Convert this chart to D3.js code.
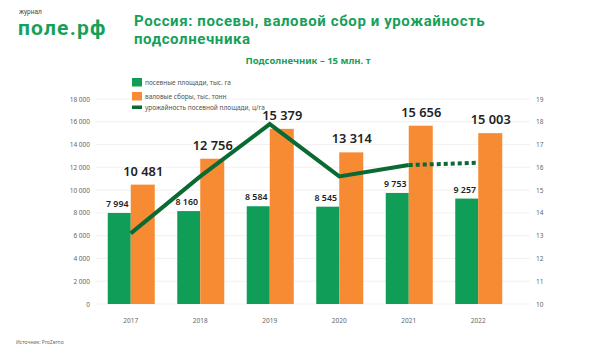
<!DOCTYPE html>
<html>
<head>
<meta charset="utf-8">
<script src="https://cdn.jsdelivr.net/npm/d3@7"></script>
<style>
    body { margin: 0; background: #fff; }
    svg { display: block; font-family: "Noto Sans", sans-serif; }
</style>
</head>
<body>
<div id="chart"></div>
<script>
const years = ['2017', '2018', '2019', '2020', '2021', '2022'];
const areaValues = [7994, 8160, 8584, 8545, 9753, 9257];      // посевные площади, тыс. га
const harvestValues = [10481, 12756, 15379, 13314, 15656, 15003]; // валовые сборы, тыс. тонн
const yieldValues = [13.1, 15.6, 17.9, 15.6, 16.1, 16.2];     // урожайность, ц/га
const leftTicks = [0, 2000, 4000, 6000, 8000, 10000, 12000, 14000, 16000, 18000];
const rightTicks = [10, 11, 12, 13, 14, 15, 16, 17, 18, 19];
const legendLabels = [
    'посевные площади, тыс. га',
    'валовые сборы, тыс. тонн',
    'урожайность посевной площади, ц/га'
];

const colors = {
    area: '#0f9d58',
    harvest: '#f68b33',
    yield: '#0b6a33',
    title: '#16a05a'
};

const width = 600;
const height = 352;

const svg = d3.select('#chart')
    .append('svg')
    .attr('width', width)
    .attr('height', height);

const fmt = v => d3.format(',')(v).replace(/,/g, ' ');

// scales
const x = d3.scaleBand().domain(years).range([96, 513]).padding(0);
const yLeft = d3.scaleLinear().domain([0, 18000]).range([304, 99]);
const yRight = d3.scaleLinear().domain([10, 19]).range([304, 99]);
const barW = 23;
const cx = d => x(d) + x.bandwidth() / 2;

// header
svg.append('text')
    .attr('x', 19).attr('y', 14)
    .attr('font-family', 'Roboto, sans-serif')
    .attr('font-size', 6.5).attr('fill', '#444')
    .text('журнал');
svg.append('text')
    .attr('x', 18).attr('y', 35)
    .attr('font-family', 'Roboto, sans-serif')
    .attr('font-size', 21).attr('font-weight', 700)
    .attr('letter-spacing', 1.2)
    .attr('fill', colors.title)
    .text('поле.рф');

svg.append('text')
    .attr('x', 134).attr('y', 26)
    .attr('font-family', 'Roboto, sans-serif')
    .attr('font-size', 15).attr('font-weight', 700)
    .attr('letter-spacing', 0.6)
    .attr('fill', colors.title)
    .text('Россия: посевы, валовой сбор и урожайность');
svg.append('text')
    .attr('x', 134).attr('y', 44)
    .attr('font-family', 'Roboto, sans-serif')
    .attr('font-size', 15).attr('font-weight', 700)
    .attr('letter-spacing', 0.6)
    .attr('fill', colors.title)
    .text('подсолнечника');

svg.append('text')
    .attr('x', 308).attr('y', 64)
    .attr('text-anchor', 'middle')
    .attr('font-size', 9.5).attr('font-weight', 700)
    .attr('fill', colors.title)
    .text('Подсолнечник – 15 млн. т');

// grid
svg.append('g')
    .selectAll('line')
    .data(leftTicks)
    .enter()
    .append('line')
    .attr('x1', 96).attr('x2', 530)
    .attr('y1', d => yLeft(d)).attr('y2', d => yLeft(d))
    .attr('stroke', '#eeeeee')
    .attr('stroke-width', 0.8);

// axes
const leftAxis = svg.append('g')
    .attr('transform', 'translate(90,0)')
    .call(d3.axisLeft(yLeft).tickValues(leftTicks).tickSize(0).tickPadding(0).tickFormat(fmt));
const rightAxis = svg.append('g')
    .attr('transform', 'translate(536,0)')
    .call(d3.axisRight(yRight).tickValues(rightTicks).tickSize(0).tickPadding(0));
const bottomAxis = svg.append('g')
    .attr('transform', 'translate(0,318)')
    .call(d3.axisBottom(x).tickSize(0).tickPadding(0));

[leftAxis, rightAxis, bottomAxis].forEach(a => {
    a.select('.domain').remove();
    a.selectAll('text')
        .attr('font-family', '"Noto Sans", sans-serif')
        .attr('font-size', 6.5)
        .attr('fill', '#666');
});

// bars
svg.append('g')
    .selectAll('rect')
    .data(areaValues)
    .enter()
    .append('rect')
    .attr('x', (d, i) => cx(years[i]) - barW)
    .attr('y', d => yLeft(d))
    .attr('width', barW)
    .attr('height', d => yLeft(0) - yLeft(d))
    .attr('fill', colors.area);

svg.append('g')
    .selectAll('rect')
    .data(harvestValues)
    .enter()
    .append('rect')
    .attr('x', (d, i) => cx(years[i]))
    .attr('y', d => yLeft(d))
    .attr('width', barW + 1)
    .attr('height', d => yLeft(0) - yLeft(d))
    .attr('fill', colors.harvest);

// value labels
svg.append('g')
    .selectAll('text')
    .data(areaValues)
    .enter()
    .append('text')
    .attr('x', (d, i) => cx(years[i]) - barW / 2 - 2)
    .attr('y', d => yLeft(d) - 6)
    .attr('text-anchor', 'middle')
    .attr('font-size', 8.8).attr('font-weight', 600)
    .attr('fill', '#222')
    .text(fmt);

svg.append('g')
    .selectAll('text')
    .data(harvestValues)
    .enter()
    .append('text')
    .attr('x', (d, i) => cx(years[i]) + barW / 2 + 1)
    .attr('y', d => yLeft(d) - 9)
    .attr('text-anchor', 'middle')
    .attr('font-size', 12.8).attr('font-weight', 600)
    .attr('fill', '#222')
    .text(fmt);

// yield line: solid to 2021, dashed after
const line = d3.line()
    .x(d => cx(d.year))
    .y(d => yRight(d.value));
const yieldPts = years.map((year, i) => ({ year, value: yieldValues[i] }));

svg.append('path')
    .datum(yieldPts.slice(0, 5))
    .attr('d', line)
    .attr('fill', 'none')
    .attr('stroke', colors.yield)
    .attr('stroke-width', 4)
    .attr('stroke-linejoin', 'miter');

svg.append('path')
    .datum(yieldPts.slice(4))
    .attr('d', line)
    .attr('fill', 'none')
    .attr('stroke', colors.yield)
    .attr('stroke-width', 4)
    .attr('stroke-dasharray', '4,3');

// legend
const legend = svg.append('g').attr('transform', 'translate(132,78)');
const legendColors = [colors.area, colors.harvest, colors.yield];
const legendY = [0, 14, 28];
legendLabels.forEach((label, i) => {
    if (i < 2) {
        legend.append('rect')
            .attr('x', 0).attr('y', legendY[i])
            .attr('width', 10).attr('height', 8.5)
            .attr('fill', legendColors[i]);
    } else {
        legend.append('rect')
            .attr('x', 0).attr('y', legendY[i] - 0.5)
            .attr('width', 10).attr('height', 3.5)
            .attr('fill', legendColors[i]);
    }
    legend.append('text')
        .attr('x', 13)
        .attr('y', i < 2 ? legendY[i] + 6.5 : legendY[i] + 3.5)
        .attr('font-size', 6.5)
        .attr('fill', '#555')
        .text(label);
});

// source
svg.append('text')
    .attr('x', 16).attr('y', 344)
    .attr('font-size', 5)
    .attr('fill', '#666')
    .text('Источник: ProZerno');
</script>
</body>
</html>
